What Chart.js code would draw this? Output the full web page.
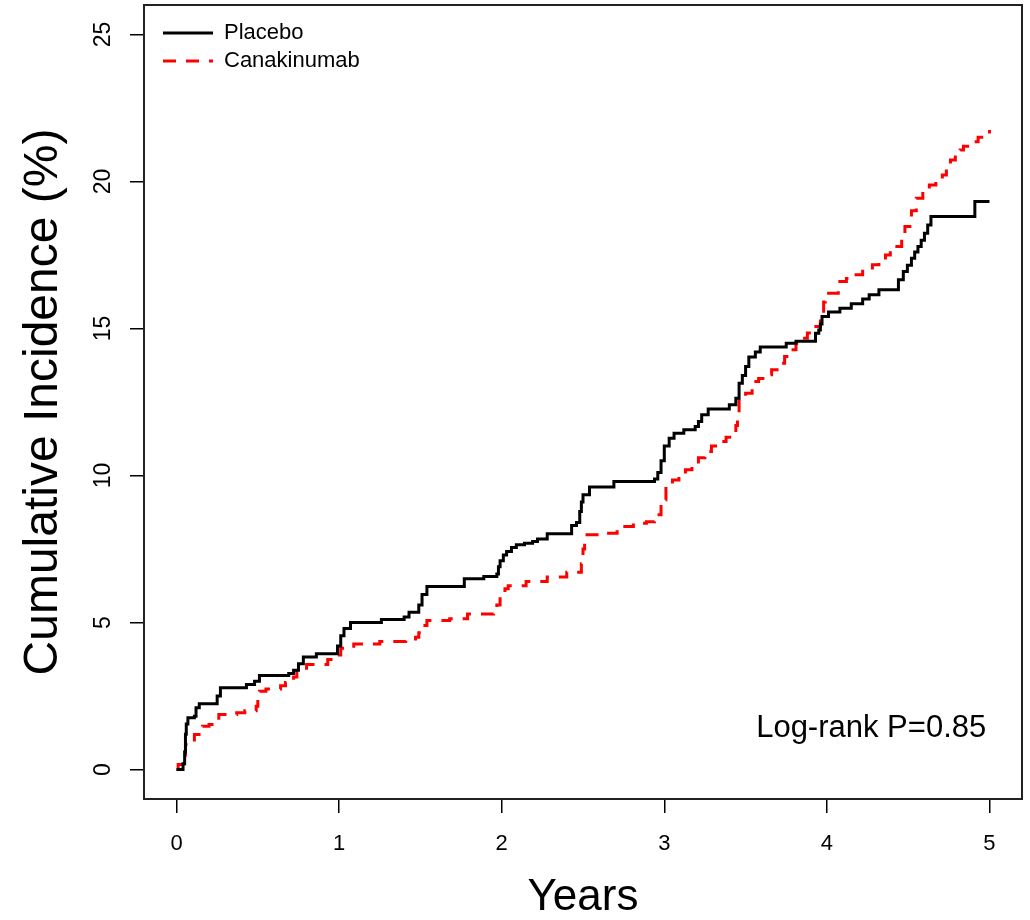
<!DOCTYPE html>
<html>
<head>
<meta charset="utf-8">
<script src="https://cdn.jsdelivr.net/npm/chart.js@4.4.1/dist/chart.umd.min.js"></script>
<style>
  html, body { margin: 0; padding: 0; background: #ffffff; }
  #wrap { width: 1030px; height: 920px; }
</style>
</head>
<body>
<div id="wrap"><canvas id="c" width="1030" height="920"></canvas></div>
<script>
// ---- data ----
const placeboYears = [0, 0.04, 0.05, 0.055, 0.06, 0.07, 0.11, 0.12, 0.14, 0.25, 0.27, 0.43, 0.48, 0.51, 0.69, 0.72, 0.75, 0.78, 0.86, 0.99, 1.01, 1.03, 1.07, 1.26, 1.40, 1.43, 1.49, 1.51, 1.54, 1.77, 1.89, 1.97, 1.98, 1.99, 2.01, 2.03, 2.06, 2.09, 2.14, 2.19, 2.22, 2.28, 2.43, 2.46, 2.48, 2.49, 2.50, 2.54, 2.69, 2.94, 2.96, 2.98, 3.00, 3.03, 3.06, 3.12, 3.19, 3.21, 3.23, 3.27, 3.40, 3.44, 3.46, 3.48, 3.50, 3.52, 3.56, 3.59, 3.75, 3.81, 3.93, 3.95, 3.96, 3.97, 4.01, 4.08, 4.15, 4.22, 4.26, 4.32, 4.44, 4.47, 4.495, 4.52, 4.54, 4.56, 4.58, 4.60, 4.62, 4.64, 4.91, 5.00];
const placeboIncidence = [0, 0.2, 0.6, 1.2, 1.55, 1.76, 1.81, 2.1, 2.24, 2.5, 2.78, 2.89, 3.0, 3.2, 3.27, 3.38, 3.6, 3.83, 3.94, 4.2, 4.55, 4.8, 5.0, 5.1, 5.19, 5.35, 5.6, 5.95, 6.23, 6.49, 6.57, 6.65, 6.9, 7.1, 7.3, 7.42, 7.55, 7.65, 7.7, 7.76, 7.84, 8.02, 8.3, 8.4, 8.78, 9.1, 9.35, 9.61, 9.8, 9.88, 10.1, 10.5, 11.0, 11.27, 11.44, 11.56, 11.67, 11.84, 12.07, 12.26, 12.41, 12.63, 13.14, 13.4, 13.71, 14.03, 14.2, 14.37, 14.5, 14.57, 14.84, 14.95, 15.15, 15.41, 15.56, 15.69, 15.84, 16.0, 16.15, 16.32, 16.66, 16.94, 17.15, 17.39, 17.6, 17.79, 18.0, 18.24, 18.52, 18.81, 19.32, 19.32];

const canakinumabYears = [0, 0.01, 0.05, 0.055, 0.11, 0.16, 0.20, 0.26, 0.37, 0.42, 0.49, 0.50, 0.51, 0.55, 0.64, 0.67, 0.72, 0.74, 0.77, 0.80, 0.93, 0.99, 1.01, 1.09, 1.25, 1.41, 1.47, 1.49, 1.51, 1.54, 1.68, 1.79, 1.95, 1.97, 1.99, 2.02, 2.04, 2.15, 2.28, 2.40, 2.49, 2.50, 2.51, 2.60, 2.71, 2.81, 2.89, 2.94, 2.98, 3.01, 3.05, 3.09, 3.13, 3.17, 3.21, 3.25, 3.29, 3.33, 3.38, 3.42, 3.44, 3.45, 3.46, 3.50, 3.54, 3.58, 3.62, 3.66, 3.71, 3.74, 3.77, 3.81, 3.85, 3.88, 3.92, 3.96, 3.98, 3.99, 4.07, 4.12, 4.17, 4.22, 4.28, 4.32, 4.36, 4.39, 4.42, 4.46, 4.48, 4.52, 4.55, 4.59, 4.63, 4.67, 4.71, 4.735, 4.76, 4.79, 4.82, 4.84, 4.88, 4.93, 5.00];
const canakinumabIncidence = [0, 0.17, 0.5, 0.85, 1.19, 1.47, 1.53, 1.87, 1.93, 2.0, 2.15, 2.4, 2.66, 2.74, 2.85, 2.96, 3.15, 3.34, 3.45, 3.57, 3.74, 3.9, 4.13, 4.27, 4.36, 4.38, 4.5, 4.65, 4.9, 5.07, 5.13, 5.29, 5.42, 5.6, 5.9, 6.15, 6.25, 6.4, 6.55, 6.71, 7.0, 7.5, 7.99, 8.04, 8.27, 8.38, 8.43, 8.67, 9.18, 9.69, 9.85, 10.03, 10.2, 10.37, 10.6, 10.82, 11.0, 11.16, 11.3, 11.44, 11.7, 12.1, 12.58, 12.8, 13.2, 13.3, 13.43, 13.6, 13.82, 14.05, 14.28, 14.5, 14.67, 14.85, 15.07, 15.52, 15.9, 16.2, 16.6, 16.7, 16.83, 17.0, 17.17, 17.33, 17.5, 17.65, 17.79, 18.1, 18.47, 19.0, 19.43, 19.65, 19.88, 20.05, 20.22, 20.5, 20.73, 20.9, 21.07, 21.2, 21.35, 21.5, 21.75];

const seriesLabels = ['Placebo', 'Canakinumab'];
const xTickValues = [0, 1, 2, 3, 4, 5];
const yTickValues = [0, 5, 10, 15, 20, 25];
const xTitle = 'Years';
const yTitle = 'Cumulative Incidence (%)';
const annotationText = 'Log-rank P=0.85';

// ---- chart ----
const FONT = "'Liberation Sans', Arial, Helvetica, sans-serif";
const toPoints = (xs, ys) => xs.map((x, i) => ({ x: x, y: ys[i] }));

const boxPlugin = {
  id: 'plotBox',
  afterDraw(chart) {
    const { ctx, chartArea: a } = chart;
    ctx.save();
    ctx.strokeStyle = '#222222';
    ctx.lineWidth = 2;
    ctx.setLineDash([]);
    ctx.strokeRect(a.left, a.top, a.right - a.left, a.bottom - a.top);
    ctx.restore();
  }
};

const annotationPlugin = {
  id: 'logrank',
  afterDatasetsDraw(chart) {
    const { ctx, scales } = chart;
    ctx.save();
    ctx.font = '31px ' + FONT;
    ctx.fillStyle = '#000000';
    ctx.textAlign = 'right';
    ctx.textBaseline = 'alphabetic';
    ctx.fillText(annotationText, scales.x.getPixelForValue(4.98), scales.y.getPixelForValue(1.12));
    ctx.restore();
  }
};

const legendPlace = {
  id: 'legendPlace',
  afterLayout(chart) {
    const lg = chart.legend;
    if (!lg) return;
    const w = lg.width;
    lg.left = chart.chartArea.left + 13;
    lg.top = chart.chartArea.top + 11;
    lg.right = lg.left + w;
    lg.bottom = chart.chartArea.bottom;
  }
};

new Chart(document.getElementById('c'), {
  type: 'line',
  data: {
    datasets: [
      {
        label: seriesLabels[0],
        data: toPoints(placeboYears, placeboIncidence),
        borderColor: '#000000',
        borderWidth: 3,
        stepped: true,
        pointRadius: 0,
        fill: false
      },
      {
        label: seriesLabels[1],
        data: toPoints(canakinumabYears, canakinumabIncidence),
        borderColor: '#ff0000',
        borderWidth: 3,
        borderDash: [13, 10],
        borderCapStyle: 'butt',
        stepped: true,
        pointRadius: 0,
        fill: false
      }
    ]
  },
  options: {
    responsive: false,
    animation: false,
    devicePixelRatio: 1,
    layout: { padding: { left: 0, right: 8, top: 5, bottom: 0 } },
    scales: {
      x: {
        type: 'linear',
        min: -0.2,
        max: 5.2,
        afterBuildTicks: (s) => { s.ticks = xTickValues.map(v => ({ value: v })); },
        afterFit: (s) => { s.height = 121; s.paddingLeft = 0; s.paddingRight = 0; s.paddingTop = 0; s.paddingBottom = 0; },
        grid: { display: true, drawOnChartArea: false, drawTicks: true, tickLength: 14, color: '#000000', lineWidth: 1.5 },
        border: { display: false },
        ticks: { color: '#000000', font: { family: FONT, size: 22 }, padding: 18, maxRotation: 0, minRotation: 0 },
        title: { display: true, text: xTitle, color: '#000000', font: { family: FONT, size: 44, lineHeight: 1 }, padding: 0 }
      },
      y: {
        type: 'linear',
        min: -1,
        max: 26,
        afterBuildTicks: (s) => { s.ticks = yTickValues.map(v => ({ value: v })); },
        afterFit: (s) => { s.width = 144; s.paddingLeft = 0; s.paddingRight = 0; s.paddingTop = 0; s.paddingBottom = 0; },
        grid: { display: true, drawOnChartArea: false, drawTicks: true, tickLength: 14, color: '#000000', lineWidth: 1.5 },
        border: { display: false },
        ticks: { color: '#000000', font: { family: FONT, size: 23 }, padding: 14, minRotation: 90, maxRotation: 90, crossAlign: 'center' },
        title: { display: true, text: yTitle, color: '#000000', font: { family: FONT, size: 48 }, padding: { top: 15, bottom: 0 } }
      }
    },
    plugins: {
      legend: {
        display: true,
        position: 'chartArea',
        align: 'start',
        labels: {
          usePointStyle: true,
          pointStyleWidth: 50,
          padding: 6,
          color: '#000000',
          font: { family: FONT, size: 22 },
          generateLabels: (chart) => chart.data.datasets.map((ds, i) => ({
            text: ds.label,
            fillStyle: ds.borderColor,
            strokeStyle: ds.borderColor,
            fontColor: '#000000',
            lineWidth: 3,
            lineDash: ds.borderDash || [],
            lineCap: 'butt',
            pointStyle: 'line',
            hidden: false,
            datasetIndex: i
          }))
        }
      },
      tooltip: { enabled: false },
      title: { display: false }
    }
  },
  plugins: [boxPlugin, annotationPlugin, legendPlace]
});
</script>
</body>
</html>
